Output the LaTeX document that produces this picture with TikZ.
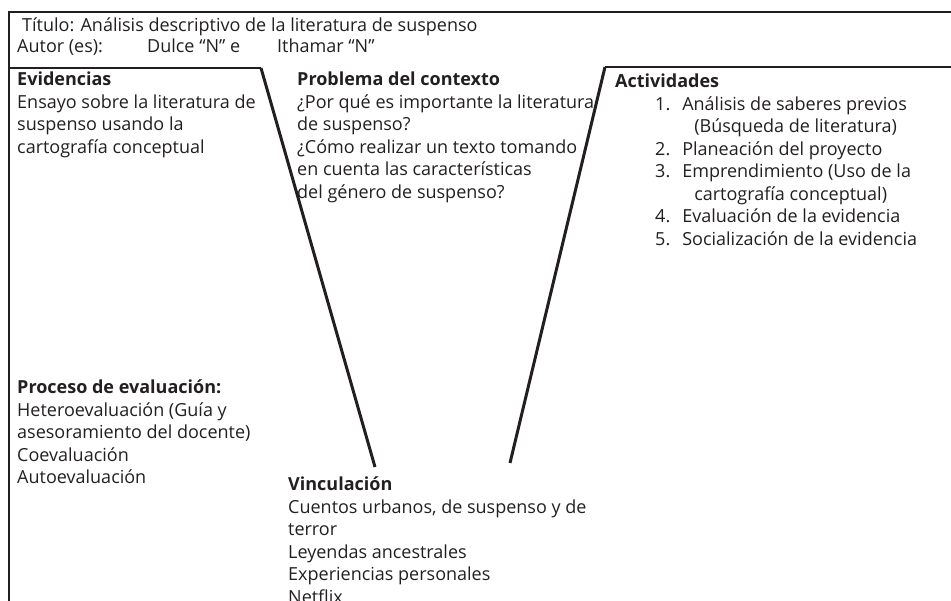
\documentclass[tikz,border=0pt]{standalone}
\usepackage{fontspec}
\setmainfont{Open Sans}
\usepackage{tikz}
\usetikzlibrary{positioning}
\definecolor{ink}{RGB}{35,31,32}

\begin{document}
\begin{tikzpicture}[x=1pt,y=-1pt]
	\tikzset{txt/.style={anchor=north west,inner sep=0pt,align=left,text=ink,
		font=\fontsize{18}{22.5}\selectfont,execute at begin node=\strut}}
	\tikzstyle{frame}=[draw=ink,line width=2.2pt]
	\tikzstyle{vline}=[draw=ink,line width=3pt]
	\useasboundingbox (0,0) rectangle (951,601);

	%% Corners of the V
	\coordinate (tl) at (9,12);
	\coordinate (tr) at (951,12);
	\coordinate (bl) at (9,601);
	\coordinate (ml) at (9,68);
	\coordinate (mr) at (951,67);
	\coordinate (vtl) at (261,68);
	\coordinate (vbl) at (375,467);
	\coordinate (vtr) at (605,67);
	\coordinate (vbr) at (510,463);

	\draw[frame] (tr) -- (tl) -- (bl);
	\draw[frame] (ml) -- (vtl);
	\draw[vline] (vtl) -- (vbl);
	\draw[vline] (vbr) -- (vtr);
	\draw[frame] (vtr) -- (mr);

	%% Title
	\node[txt] (titulo) at (22,15.5) {Título: Análisis descriptivo de la literatura de suspenso};
	\node[txt] (autor) at (17,37) {Autor (es):};
	\node[txt] (dulce) at (147,37) {Dulce “N” e};
	\node[txt] (ithamar) at (277,37) {Ithamar “N”};

	%% Columns
	\node[txt] (evid) at (17,72) {\textbf{Evidencias}\\Ensayo sobre la literatura de\\suspenso usando la\\cartografía conceptual};
	\node[txt] (problema) at (297,72) {\textbf{Problema del contexto}\\¿Por qué es importante la literatura\\de suspenso?\\¿Cómo realizar un texto tomando\\en cuenta las características\\del género de suspenso?};
	\node[txt] (activ) at (615,72) {\textbf{Actividades}};
	\node[txt] (lista) at (655,94.5) {\begin{tabular}{@{}l@{\hspace{12pt}}l@{}}
		1. & Análisis de saberes previos\\
		   & \hspace{12pt}(Búsqueda de literatura)\\
		2. & Planeación del proyecto\\
		3. & Emprendimiento (Uso de la\\
		   & \hspace{12pt}cartografía conceptual)\\
		4. & Evaluación de la evidencia\\
		5. & Socialización de la evidencia
	\end{tabular}};
	\node[txt] (proceso) at (17,380) {\textbf{Proceso de evaluación:}\\Heteroevaluación (Guía y\\asesoramiento del docente)\\Coevaluación\\Autoevaluación};
	\node[txt] (vincul) at (288,477) {\textbf{Vinculación}\\Cuentos urbanos, de suspenso y de\\terror\\Leyendas ancestrales\\Experiencias personales\\Netflix};
\end{tikzpicture}
\end{document}
